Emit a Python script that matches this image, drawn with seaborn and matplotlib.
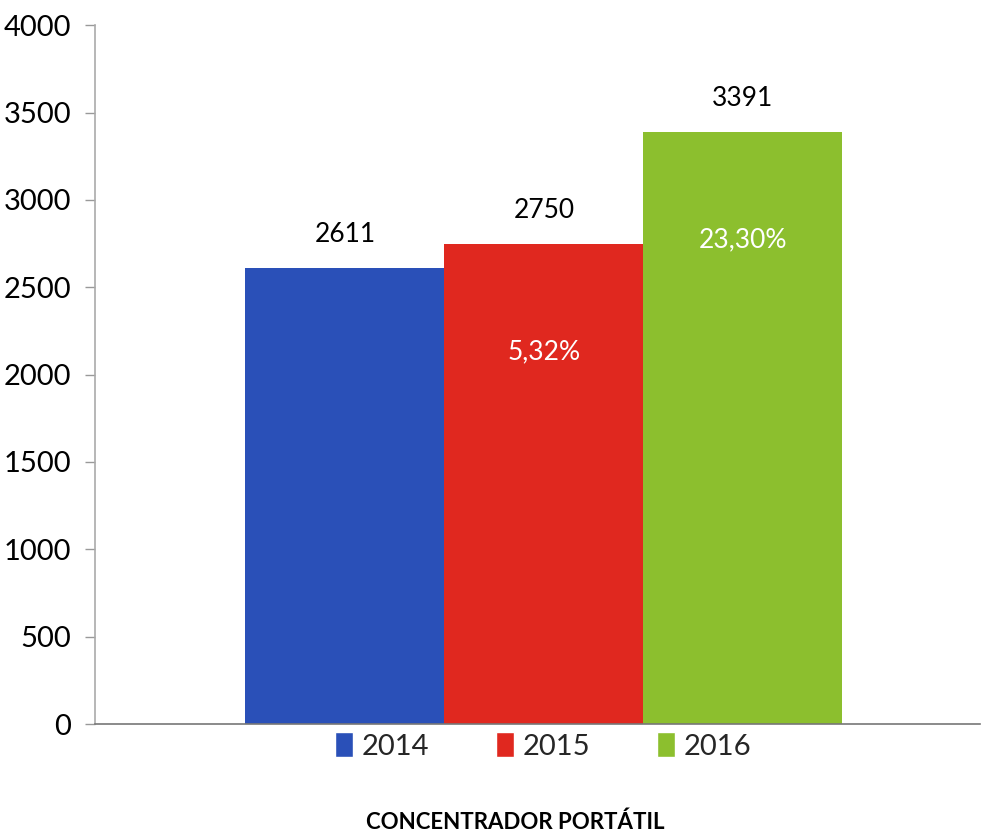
import pandas as pd
import seaborn as sns
import matplotlib.pyplot as plt
from matplotlib.patches import Patch

# data
years = ["2014", "2015", "2016"]
values = [2611, 2750, 3391]
growth = ["", "5,32%", "23,30%"]
colors = ["#2a50b8", "#e0281f", "#8cbf2e"]
title = "CONCENTRADOR PORTÁTIL"

df = pd.DataFrame({"year": years, "value": values})

sns.set_style("white")
plt.rcParams["font.family"] = ["Lato", "DejaVu Sans"]

fig = plt.figure(figsize=(9.82, 8.4), dpi=100)
ax = fig.add_axes([0.0967, 0.138, 0.901, 0.832])

sns.barplot(data=df, x="year", y="value", hue="year", palette=colors,
            width=1.0, dodge=False, legend=False, ax=ax, saturation=1, linewidth=0)

# value labels above, growth labels inside
for i, (v, g) in enumerate(zip(values, growth)):
    ax.text(i, v + 120, str(v), ha="center", va="bottom", fontsize=19, color="black")
    if g:
        ax.text(i, v - 620, g, ha="center", va="center", fontsize=19, color="white")

ax.set_xlim(-1.256, 3.19)
ax.set_ylim(0, 4000)
ax.set_yticks(range(0, 4001, 500))
ax.tick_params(axis="y", left=True, labelsize=21, length=7, width=1, color="#999999",
               direction="out", pad=10, labelcolor="black")
ax.tick_params(axis="x", bottom=False, labelbottom=False)
ax.set_xlabel("")
ax.set_ylabel("")

for s in ["top", "right"]:
    ax.spines[s].set_visible(False)
ax.spines["left"].set_color("#aaaaaa")
ax.spines["bottom"].set_color("#777777")
ax.spines["left"].set_linewidth(1.2)
ax.spines["bottom"].set_linewidth(1.2)

handles = [Patch(facecolor=c, label=y) for c, y in zip(colors, years)]
fig.legend(handles=handles, loc="center", bbox_to_anchor=(0.553, 0.112), ncol=3,
           frameon=False, fontsize=21, handlelength=0.6, handleheight=0.9,
           handletextpad=0.3, columnspacing=2.3)

fig.text(0.525, 0.021, title, ha="center", va="center", fontsize=16,
         fontweight="bold", color="black")

fig.savefig("out.png", dpi=100)
